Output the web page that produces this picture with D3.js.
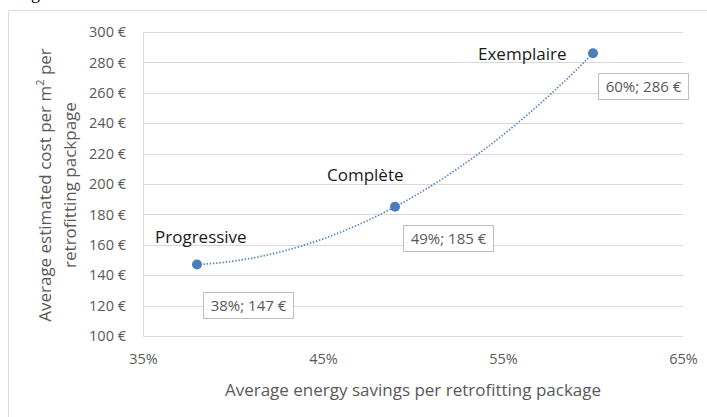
<!DOCTYPE html>
<html><head><meta charset="utf-8">
<script src="https://cdn.jsdelivr.net/npm/d3@7"></script>
<style>
html,body{margin:0;padding:0;background:#fff;}
svg{display:block;font-family:"Open Sans","Noto Sans",sans-serif;}
</style></head>
<body>
<svg id="chart" width="707" height="417"></svg>
<script>
const packages = ["Progressive", "Complète", "Exemplaire"];
const savings = [38, 49, 60];           // %
const costs = [147, 185, 286];          // € per m²
const yTicks = [100, 120, 140, 160, 180, 200, 220, 240, 260, 280, 300];
const xTicks = [35, 45, 55, 65];

const svg = d3.select("#chart");
const x = d3.scaleLinear().domain([35, 65]).range([143, 683]);
const y = d3.scaleLinear().domain([100, 300]).range([336, 32]);

// cropped caption descender + outer frame
svg.append("text").attr("x", 31).attr("y", -1).attr("font-size", 18).attr("fill", "#000")
  .attr("font-family", "Liberation Serif, serif").text("g");
svg.append("path").attr("d", "M8.5,417V10.5H707").attr("fill", "none").attr("stroke", "#d9d9d9");

// gridlines
svg.append("g").selectAll("line").data(yTicks).join("line")
  .attr("x1", 143).attr("x2", 683)
  .attr("y1", d => Math.round(y(d)) + 0.5).attr("y2", d => Math.round(y(d)) + 0.5)
  .attr("stroke", "#d9d9d9").attr("stroke-width", 1);
svg.append("line").attr("x1", 143.5).attr("x2", 143.5).attr("y1", y(300)).attr("y2", y(100) + 0.5)
  .attr("stroke", "#d9d9d9");

// y axis
const yAxis = d3.axisLeft(y).tickValues(yTicks).tickSize(0).tickPadding(0)
  .tickFormat(d => d + " €");
const gy = svg.append("g").attr("transform", "translate(126,0)").call(yAxis);
gy.select(".domain").remove();
gy.selectAll("text").attr("font-size", 14.5).attr("fill", "#595959")
  .attr("font-family", "Open Sans, sans-serif");

// x axis
const xAxis = d3.axisBottom(x).tickValues(xTicks).tickSize(0).tickPadding(0)
  .tickFormat(d => d + "%");
const gx = svg.append("g").attr("transform", "translate(0,354)").call(xAxis);
gx.select(".domain").remove();
gx.selectAll("text").attr("font-size", 14.5).attr("fill", "#595959")
  .attr("font-family", "Open Sans, sans-serif");

// axis titles
svg.append("text").attr("x", 413).attr("y", 396).attr("text-anchor", "middle")
  .attr("font-size", 17).attr("fill", "#595959")
  .text("Average energy savings per retrofitting package");
const yt = svg.append("text").attr("transform", "translate(51,185) rotate(-90)")
  .attr("text-anchor", "middle").attr("font-size", 17).attr("fill", "#595959");
yt.append("tspan").attr("x", 0).attr("dy", 0).text("Average estimated cost per  m");
yt.append("tspan").attr("font-size", 11).attr("dy", -7).text("2");
yt.append("tspan").attr("dy", 7).text(" per");
yt.append("tspan").attr("x", 0).attr("dy", 25).text("retrofitting packpage");

// polynomial (order 2) trendline fitted to the data
const pts = savings.map((s, i) => [s, costs[i]]);
function polyFit(p) {
  // exact quadratic through three points (Lagrange form)
  return t => p.reduce((acc, [xi, yi], i) => {
    let term = yi;
    p.forEach(([xj], j) => { if (j !== i) term *= (t - xj) / (xi - xj); });
    return acc + term;
  }, 0);
}
const f = polyFit(pts);
const tr = d3.range(savings[0], savings[2] + 0.001, 0.25).map(t => [t, f(t)]);
svg.append("path").datum(tr)
  .attr("d", d3.line().x(d => x(d[0])).y(d => y(d[1])).curve(d3.curveMonotoneX))
  .attr("fill", "none").attr("stroke", "#4f81bd").attr("stroke-width", 1.7)
  .attr("stroke-dasharray", "1.4,1.8");

// points
svg.append("g").selectAll("circle").data(pts).join("circle")
  .attr("cx", d => x(d[0])).attr("cy", d => y(d[1])).attr("r", 5)
  .attr("fill", "#4a7ebb");

// category labels
const catOff = [[-42, -22], [-68, -26], [-115, 7]];
svg.append("g").selectAll("text").data(pts).join("text")
  .attr("x", (d, i) => x(d[0]) + catOff[i][0]).attr("y", (d, i) => y(d[1]) + catOff[i][1])
  .attr("font-size", 17).attr("fill", "#1a1a1a").text((d, i) => packages[i]);

// value boxes
const boxOff = [[6, 27], [8, 18], [5, 20]];
const bw = 90, bh = 26;
const vb = svg.append("g").selectAll("g").data(pts).join("g")
  .attr("transform", (d, i) => `translate(${Math.round(x(d[0]) + boxOff[i][0]) + 0.5},${Math.round(y(d[1]) + boxOff[i][1]) + 0.5})`);
vb.append("rect").attr("width", bw).attr("height", bh).attr("fill", "#fff").attr("stroke", "#bfbfbf");
vb.append("text").attr("x", bw / 2).attr("y", 18).attr("text-anchor", "middle")
  .attr("font-size", 15).attr("fill", "#595959")
  .text(d => `${d[0]}%; ${d[1]} €`);
</script>
</body></html>
